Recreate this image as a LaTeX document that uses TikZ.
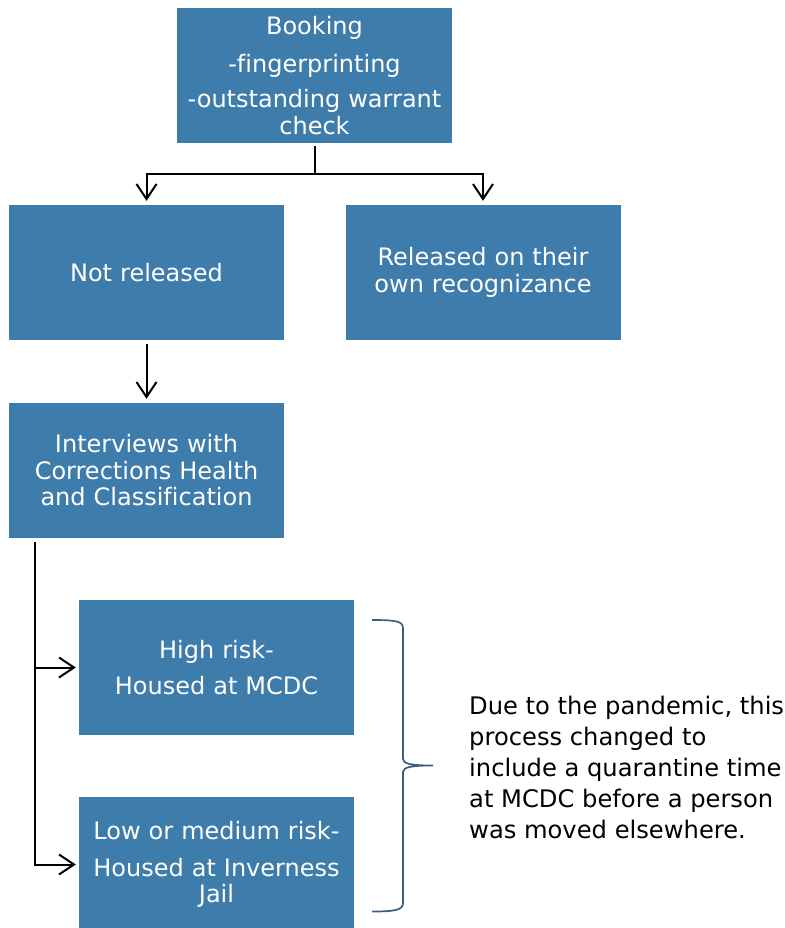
\documentclass[tikz,border=0pt]{standalone}
\usepackage{fontspec}
\setmainfont{DejaVu Sans}[Ligatures=CommonOff]
\usetikzlibrary{arrows.meta}
\definecolor{boxblue}{HTML}{3E7CAB}
\definecolor{bracegray}{HTML}{3D5D80}

\begin{document}
\begin{tikzpicture}[x=1pt,y=-1pt,every node/.style={font=\fontsize{24}{26.5}\selectfont},stage/.style={fill=boxblue,text=white,minimum width=275pt,minimum height=135pt,inner sep=0pt,text width=268pt,align=center},flow/.style={draw=black,line width=2pt,-{Straight Barb[length=15pt,width=20pt]},shorten >=4pt}]
\useasboundingbox (0,0) rectangle (784,928);
\node[stage](booking) at (314.5,75.5) {Booking\\[11.5pt]-fingerprinting\\[8.5pt]-outstanding warrant\\check};
\node[stage](notrel) at (146.5,272.5) {Not released};
\node[stage](released) at (483,272.5) {Released on their\\own recognizance};
\node[stage](interviews) at (146.5,470.5) {Interviews with\\Corrections Health\\and Classification};
\node[stage](high) at (216.5,667.5) {High risk-\\[9.5pt]Housed at MCDC};
\node[stage](low) at (216.5,864.5) {Low or medium risk-\\[10pt]Housed at Inverness\\Jail};
\node[anchor=west,align=left,inner sep=0pt,font=\fontsize{24.2}{31}\selectfont](note) at (469,767) {Due to the pandemic, this\\process changed to\\include a quarantine time\\at MCDC before a person\\was moved elsewhere.};
\coordinate (split) at (314.5,174);
\coordinate (spine) at (35,542);
\draw[flow] (booking.south) ++(0,3) -- (split) -| (notrel.north);
\draw[flow] (split) -| (released.north);
\draw[flow] (notrel.south) ++(0,4) -- (interviews.north);
\draw[flow,shorten >=3pt] (spine) |- (high.west);
\draw[flow,shorten >=3pt] (spine) |- (low.west);
\draw[bracegray,line width=1.7pt] (372,620) .. controls (395,620) and (403,621) .. (403,628) -- (403,759) .. controls (403,764) and (412,765.5) .. (433,765.5) .. controls (412,765.5) and (403,767) .. (403,772) -- (403,903) .. controls (403,910) and (395,911.5) .. (372,911.5);
\end{tikzpicture}
\end{document}
